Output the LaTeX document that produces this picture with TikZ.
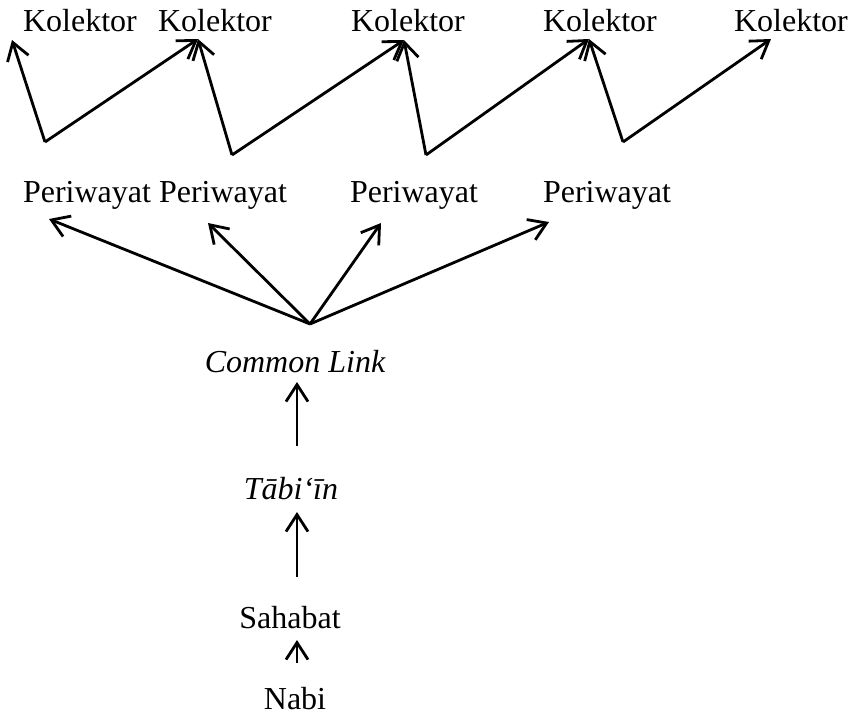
\documentclass[tikz,border=0pt]{standalone}
\usepackage{fontspec}
\setmainfont{Liberation Serif}
\usetikzlibrary{arrows.meta}
\tikzset{
  lbl/.style={inner sep=0pt, anchor=base, font=\fontsize{32}{38}\selectfont},
  ilbl/.style={lbl, font=\fontsize{32}{38}\selectfont\itshape},
  arr/.style={line width=2.8pt, -{Straight Barb[length=17pt,width=22pt]}},
}
\begin{document}
\begin{tikzpicture}[x=1pt,y=-1pt]
\useasboundingbox (0,0) rectangle (856,716);
% top row
\node[lbl] (k1) at (80,31) {Kolektor};
\node[lbl] (k2) at (215,31) {Kolektor};
\node[lbl] (k3) at (408,31) {Kolektor};
\node[lbl] (k4) at (600,31) {Kolektor};
\node[lbl] (k5) at (791,31) {Kolektor};
% periwayat row
\node[lbl] (p1) at (87,202) {Periwayat};
\node[lbl] (p2) at (223,202) {Periwayat};
\node[lbl] (p3) at (414,202) {Periwayat};
\node[lbl] (p4) at (607,202) {Periwayat};
% chain
\node[ilbl] (cl) at (295,372) {Common Link};
\node[ilbl] (tb) at (291,499) {T\=abi‘\=in};
\node[lbl] (sh) at (290,628) {Sahabat};
\node[lbl] (nb) at (295,709) {Nabi};
% zigzag coordinates
\coordinate (t1) at (12,40);
\coordinate (t2) at (198,39);
\coordinate (t3) at (404,40);
\coordinate (t4) at (589,39);
\coordinate (t5) at (771,39);
\coordinate (b1) at (45,142);
\coordinate (b2) at (232,155);
\coordinate (b3) at (426,155);
\coordinate (b4) at (623,142);
\draw[arr] (b1) -- (t1);
\draw[arr] (b1) -- (t2);
\draw[arr] (b2) -- (t2);
\draw[arr] (b2) -- (t3);
\draw[arr] (b3) -- (t3);
\draw[arr] (b3) -- (t4);
\draw[arr] (b4) -- (t4);
\draw[arr] (b4) -- (t5);
% fan
\coordinate (hub) at (310,324);
\coordinate (q1) at (49,219);
\coordinate (q2) at (208,223);
\coordinate (q3) at (381,223);
\coordinate (q4) at (549,222);
\draw[arr] (hub) -- (q1);
\draw[arr] (hub) -- (q2);
\draw[arr] (hub) -- (q3);
\draw[arr] (hub) -- (q4);
% vertical arrows
\coordinate (v1a) at (297,446);
\coordinate (v1b) at (297,382);
\coordinate (v2a) at (297,577);
\coordinate (v2b) at (297,512);
\coordinate (v3a) at (297,663);
\coordinate (v3b) at (297,640);
\draw[arr] (v1a) -- (v1b);
\draw[arr] (v2a) -- (v2b);
\draw[arr] (v3a) -- (v3b);
\end{tikzpicture}
\end{document}
